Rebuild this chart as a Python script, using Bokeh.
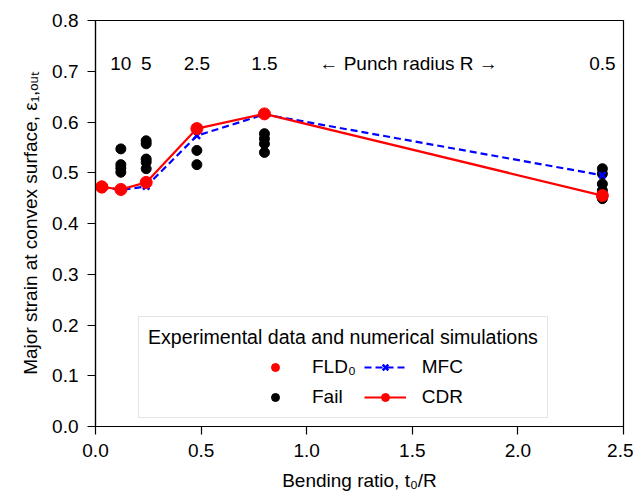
from bokeh.plotting import figure
from bokeh.models import (ColumnDataSource, Legend, LegendItem, FixedTicker,
                          Range1d, PrintfTickFormatter)
from bokeh.core.properties import value
from bokeh.embed import file_html
from bokeh.resources import INLINE

# ---------------- data ----------------
fld0_x = [0.03]
fld0_y = [0.472]

fail_x = [0.12, 0.12, 0.12, 0.12,
          0.24, 0.24, 0.24, 0.24, 0.24,
          0.48, 0.48,
          0.80, 0.80, 0.80, 0.80,
          2.40, 2.40, 2.40, 2.40, 2.40]
fail_y = [0.547, 0.516, 0.509, 0.501,
          0.563, 0.557, 0.527, 0.521, 0.508,
          0.544, 0.516,
          0.577, 0.567, 0.557, 0.540,
          0.508, 0.498, 0.478, 0.465, 0.449]

sim_x = [0.03, 0.12, 0.24, 0.48, 0.80, 2.40]
mfc_y = [0.472, 0.466, 0.473, 0.573, 0.615, 0.495]
cdr_y = [0.472, 0.467, 0.481, 0.587, 0.616, 0.455]

radius_x = [0.12, 0.24, 0.48, 0.80, 2.40]
radius_y = [0.715, 0.715, 0.715, 0.715, 0.715]
radius_labels = ["10", "5", "2.5", "1.5", "0.5"]

arrow_x = [1.06]
arrow_y = [0.715]
arrow_label = ["\u2190 Punch radius R \u2192"]

x_ticks = [0.0, 0.5, 1.0, 1.5, 2.0, 2.5]
y_ticks = [0.0, 0.1, 0.2, 0.3, 0.4, 0.5, 0.6, 0.7, 0.8]

FONT = "Liberation Sans"
FS = "19px"

# ---------------- figure ----------------
p = figure(width=633, height=495, output_backend="svg", toolbar_location=None,
           x_range=Range1d(0, 2.5), y_range=Range1d(0, 0.8),
           min_border_left=95, min_border_right=10, min_border_top=20,
           min_border_bottom=69)
p.grid.visible = False
p.outline_line_color = "black"
p.outline_line_width = 1.2
p.background_fill_color = "white"
p.border_fill_color = "white"

p.xaxis.ticker = FixedTicker(ticks=x_ticks)
p.yaxis.ticker = FixedTicker(ticks=y_ticks)
p.xaxis.formatter = PrintfTickFormatter(format="%.1f")
p.yaxis.formatter = PrintfTickFormatter(format="%.1f")
for ax in (p.xaxis, p.yaxis):
    ax.major_tick_in = 0
    ax.major_tick_out = 8
    ax.minor_tick_line_color = None
    ax.major_tick_line_width = 1.2
    ax.axis_line_width = 1.2
    ax.axis_line_color = "black"
    ax.major_tick_line_color = "black"
    ax.major_label_text_font = FONT
    ax.major_label_text_font_size = FS
    ax.major_label_text_color = "black"
    ax.major_label_standoff = 9
    ax.axis_label_text_font = FONT
    ax.axis_label_text_font_size = FS
    ax.axis_label_text_font_style = "normal"
    ax.axis_label_text_color = "black"
    ax.axis_label_standoff = 8
p.xaxis.axis_label_standoff = 10

p.xaxis.axis_label = "Bending ratio, t\u2080/R"
p.yaxis.axis_label = "Major strain at convex surface, \u03b5\u2081,\u2092\u1d64\u209c"

# ---------------- glyphs ----------------
src_fail = ColumnDataSource(dict(x=fail_x, y=fail_y))
src_fld = ColumnDataSource(dict(x=fld0_x, y=fld0_y))
src_sim = ColumnDataSource(dict(x=sim_x, mfc=mfc_y, cdr=cdr_y))

r_fail = p.scatter("x", "y", source=src_fail, size=10, color="black")
r_fld = p.scatter("x", "y", source=src_fld, size=12, color="#ff0000")
r_mfc_l = p.line("x", "mfc", source=src_sim, line_color="#0000ff",
                 line_width=2.2, line_dash="7 4")
r_mfc_m = p.scatter("x", "mfc", source=src_sim, marker="x", size=9,
                    line_color="#0000ff", line_width=2.5)
r_cdr_l = p.line("x", "cdr", source=src_sim, line_color="#ff0000", line_width=2.2)
r_cdr_m = p.scatter("x", "cdr", source=src_sim, size=12, color="#ff0000")

# invisible spacer renderer (only used to indent the legend columns)
r_pad = p.scatter(x=[], y=[], size=1, fill_alpha=0, line_alpha=0)

# annotations
src_rad = ColumnDataSource(dict(x=radius_x, y=radius_y, t=radius_labels))
p.text("x", "y", text="t", source=src_rad, text_align="center",
       text_baseline="middle", text_font=value(FONT), text_font_size=FS,
       text_color="black")
src_arr = ColumnDataSource(dict(x=arrow_x, y=arrow_y, t=arrow_label))
p.text("x", "y", text="t", source=src_arr, text_align="left",
       text_baseline="middle", text_font=value(FONT), text_font_size=FS,
       text_color="black")

# ---------------- legend ----------------
legend = Legend(items=[
    LegendItem(label=" ", renderers=[r_pad]),
    LegendItem(label=" ", renderers=[r_pad]),
    LegendItem(label="FLD\u2080", renderers=[r_fld]),
    LegendItem(label="Fail", renderers=[r_fail]),
    LegendItem(label="MFC", renderers=[r_mfc_l, r_mfc_m]),
    LegendItem(label="CDR", renderers=[r_cdr_l, r_cdr_m]),
], location=(43, 8), ncols=3, orientation="vertical")
legend.title = "Experimental data and numerical simulations"
legend.title_text_font = FONT
legend.title_text_font_size = "19.6px"
legend.title_text_font_style = "normal"
legend.title_text_color = "black"
legend.title_standoff = 7
legend.label_text_font = FONT
legend.label_text_font_size = FS
legend.label_text_color = "black"
legend.glyph_width = 42
legend.glyph_height = 20
legend.label_height = 22
legend.label_width = 40
legend.label_standoff = 16
legend.spacing = 8
legend.padding = 9
legend.border_line_color = "#cccccc"
legend.border_line_width = 1.5
legend.background_fill_alpha = 0.85
p.add_layout(legend, "center")

open("out.html", "w").write(file_html(p, INLINE))
